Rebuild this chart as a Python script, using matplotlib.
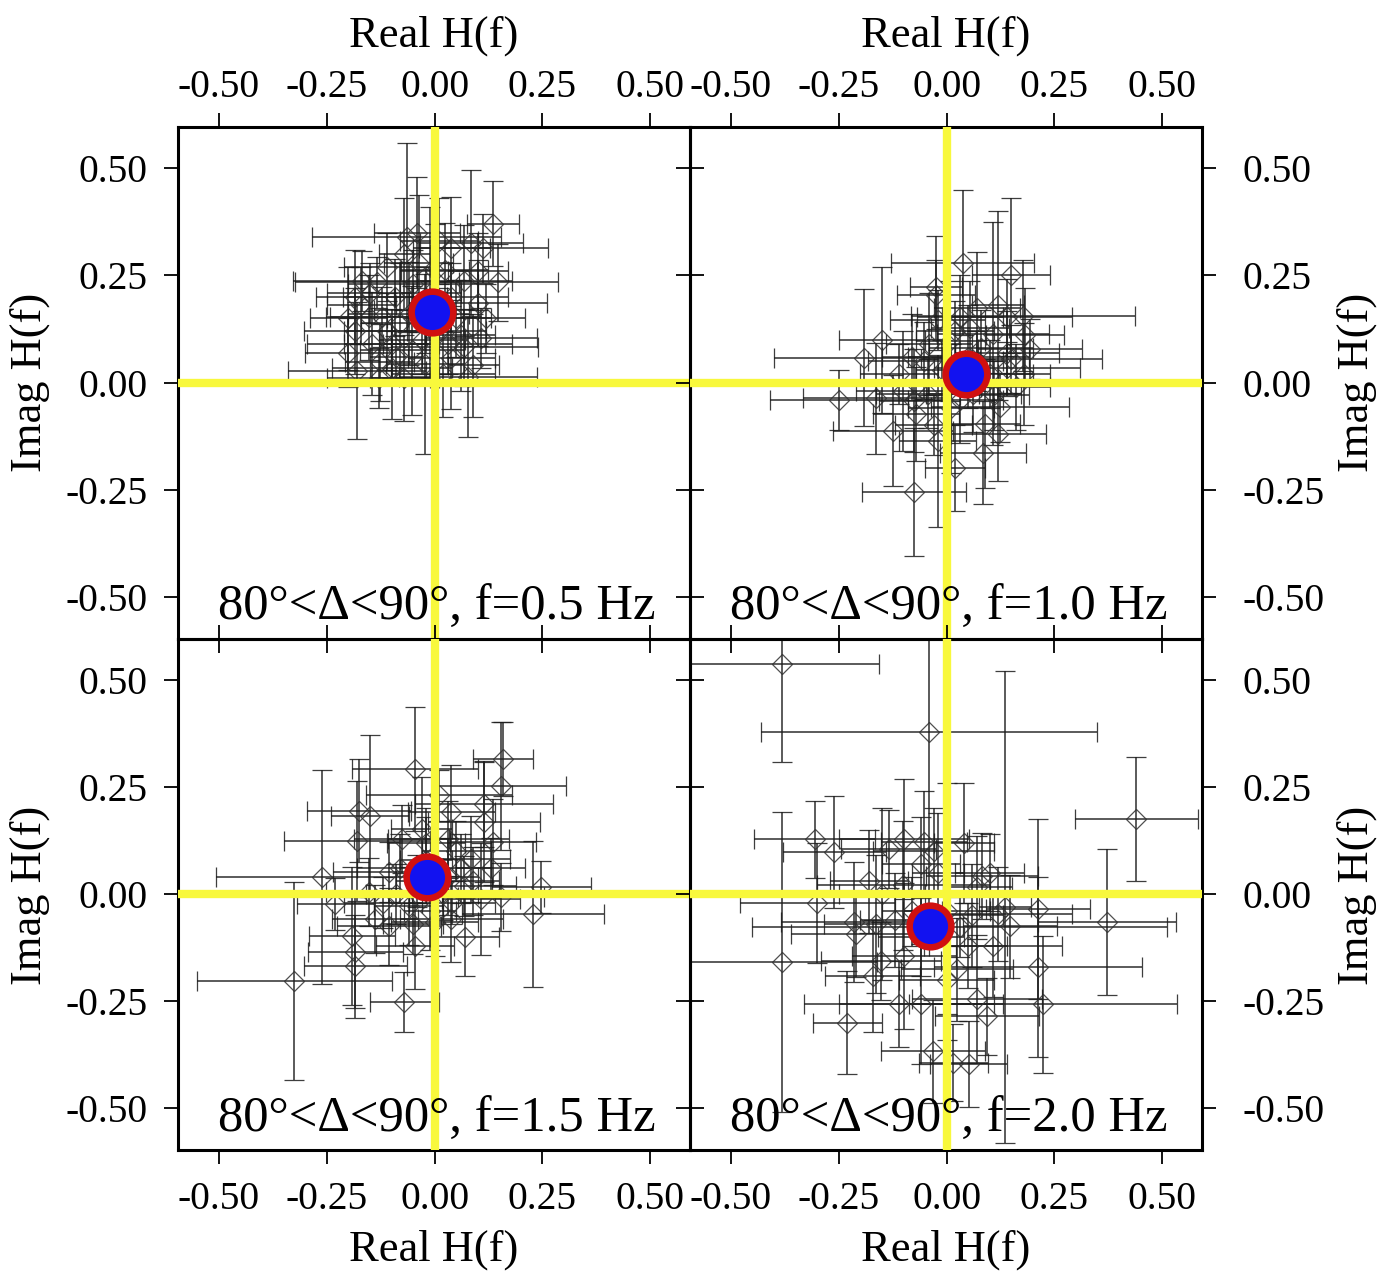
import matplotlib.pyplot as plt
import numpy as np

plt.rcParams['font.family'] = ['Liberation Serif', 'DejaVu Serif']

# ---- f = 0.5 Hz (top left) ----
f05_re = [0.136, -0.041, -0.065, 0.039, 0.085, 0.113, 0.147, -0.168, -0.184, -0.134,
          0.101, 0.069, -0.184, -0.180, -0.099, -0.127, 0.078, 0.108, 0.069, 0.039,
          -0.099, -0.145, -0.081, -0.092, -0.037, 0.023, 0.039, -0.053, -0.023, 0.009,
          -0.122, -0.152, -0.060, -0.010, 0.050, -0.030, 0.020, -0.200, -0.110, 0.090,
          -0.070, 0.010, -0.170, 0.120, -0.150, -0.020, 0.060, -0.110, 0.000, -0.050,
          0.100, -0.200, -0.130, 0.030, -0.070, -0.090]
f05_im = [0.371, 0.350, 0.339, 0.313, 0.325, 0.313, 0.234, 0.238, 0.199, 0.234,
          0.185, 0.238, 0.121, 0.028, 0.035, 0.047, 0.012, 0.105, 0.082, 0.058,
          0.091, 0.091, 0.138, 0.199, 0.278, 0.262, 0.199, 0.075, 0.044, 0.121,
          0.152, 0.152, 0.161, 0.210, 0.150, 0.100, 0.020, 0.070, 0.270, 0.040,
          0.010, 0.330, 0.180, 0.150, 0.210, 0.170, 0.110, 0.120, 0.260, 0.230,
          0.260, 0.150, 0.010, 0.090, 0.300, 0.060]
f05_re_err = [0.06, 0.10, 0.22, 0.09, 0.12, 0.15, 0.14, 0.16, 0.09, 0.19,
              0.16, 0.11, 0.12, 0.16, 0.14, 0.08, 0.16, 0.13, 0.17, 0.10,
              0.11, 0.15, 0.09, 0.12, 0.08, 0.10, 0.13, 0.12, 0.09, 0.11,
              0.13, 0.09, 0.14, 0.07, 0.08, 0.10, 0.12, 0.10, 0.10, 0.06,
              0.08, 0.09, 0.08, 0.09, 0.10, 0.12, 0.08, 0.10, 0.08, 0.15,
              0.07, 0.09, 0.12, 0.15, 0.06, 0.06]
f05_im_err = [0.10, 0.13, 0.22, 0.12, 0.17, 0.08, 0.09, 0.07, 0.11, 0.06,
              0.10, 0.13, 0.10, 0.16, 0.12, 0.09, 0.14, 0.07, 0.09, 0.12,
              0.08, 0.12, 0.14, 0.09, 0.16, 0.11, 0.08, 0.15, 0.21, 0.10,
              0.07, 0.10, 0.12, 0.20, 0.09, 0.08, 0.10, 0.08, 0.08, 0.12,
              0.10, 0.10, 0.09, 0.08, 0.07, 0.10, 0.13, 0.09, 0.11, 0.08,
              0.09, 0.12, 0.07, 0.07, 0.13, 0.06]

# ---- f = 1.0 Hz (top right) ----
f10_re = [0.037, -0.025, -0.025, -0.191, -0.164, -0.124, -0.071, -0.021, 0.090, 0.085,
          0.124, 0.071, 0.140, 0.177, 0.182, 0.193, 0.032, 0.108, -0.053, 0.055,
          -0.021, 0.140, -0.076, -0.044, 0.140, 0.062, 0.009, -0.076, 0.150, 0.010,
          0.100, -0.110, 0.050, -0.040, 0.160, -0.150, 0.020, 0.120, -0.250, -0.010,
          0.150, 0.080, 0.020, -0.080, 0.120, 0.030, -0.100, 0.180, 0.070, -0.030,
          0.110]
f10_im = [0.280, 0.222, 0.205, 0.058, -0.037, -0.112, -0.073, -0.136, -0.096, -0.164,
          -0.058, 0.175, 0.152, 0.156, 0.110, 0.079, 0.152, 0.114, 0.051, 0.128,
          0.145, 0.068, -0.042, -0.026, 0.035, -0.026, 0.098, -0.255, 0.250, -0.060,
          0.020, 0.020, 0.060, 0.090, -0.010, 0.100, -0.200, -0.120, -0.040, 0.030,
          0.055, 0.080, 0.120, 0.060, 0.180, -0.040, -0.020, 0.020, 0.050, -0.100,
          -0.030]
f10_re_err = [0.165, 0.06, 0.09, 0.21, 0.17, 0.14, 0.10, 0.09, 0.08, 0.10,
              0.16, 0.10, 0.15, 0.26, 0.09, 0.12, 0.10, 0.13, 0.13, 0.09,
              0.11, 0.12, 0.08, 0.12, 0.17, 0.11, 0.08, 0.12, 0.09, 0.10,
              0.10, 0.09, 0.14, 0.10, 0.08, 0.10, 0.07, 0.11, 0.16, 0.06,
              0.21, 0.12, 0.09, 0.07, 0.06, 0.10, 0.11, 0.06, 0.06, 0.09,
              0.08]
f10_im_err = [0.17, 0.12, 0.08, 0.16, 0.13, 0.13, 0.11, 0.20, 0.15, 0.12,
              0.08, 0.13, 0.09, 0.13, 0.11, 0.07, 0.10, 0.26, 0.09, 0.11,
              0.07, 0.10, 0.12, 0.08, 0.06, 0.09, 0.14, 0.15, 0.18, 0.15,
              0.08, 0.07, 0.12, 0.12, 0.10, 0.17, 0.10, 0.11, 0.07, 0.07,
              0.08, 0.09, 0.07, 0.10, 0.22, 0.10, 0.14, 0.12, 0.07, 0.07,
              0.08]

# ---- f = 1.5 Hz (bottom left) ----
f15_re = [0.159, 0.154, 0.115, 0.115, 0.136, -0.046, 0.039, -0.175, -0.150, -0.180,
          -0.260, -0.230, -0.191, -0.184, -0.184, -0.325, -0.071, -0.046, -0.138, -0.106,
          0.228, 0.247, 0.154, 0.039, -0.076, -0.030, 0.032, 0.085, -0.106, -0.152,
          -0.060, 0.069, 0.108, 0.000, -0.020, 0.020, -0.090, 0.060, -0.040, 0.010,
          0.070, 0.050, -0.080, 0.030, -0.120, 0.090, -0.050, 0.040, -0.020, 0.130,
          -0.010]
f15_im = [0.315, 0.252, 0.210, 0.168, 0.121, 0.292, 0.192, 0.194, 0.182, 0.124,
          0.040, -0.023, -0.098, -0.136, -0.168, -0.203, -0.252, -0.121, -0.058, -0.075,
          -0.047, 0.016, -0.007, -0.058, 0.128, 0.152, 0.128, 0.082, 0.051, 0.005,
          -0.028, 0.019, -0.012, -0.065, 0.080, 0.000, 0.000, 0.060, 0.030, 0.230,
          -0.100, 0.100, 0.060, 0.040, -0.020, 0.030, -0.070, -0.020, 0.120, 0.060,
          -0.040]
f15_re_err = [0.07, 0.15, 0.16, 0.13, 0.10, 0.146, 0.10, 0.12, 0.09, 0.17,
              0.247, 0.09, 0.10, 0.11, 0.12, 0.226, 0.08, 0.09, 0.10, 0.12,
              0.164, 0.115, 0.10, 0.12, 0.11, 0.07, 0.14, 0.09, 0.13, 0.10,
              0.08, 0.12, 0.09, 0.10, 0.06, 0.08, 0.07, 0.07, 0.05, 0.17,
              0.08, 0.08, 0.10, 0.07, 0.09, 0.06, 0.07, 0.10, 0.09, 0.08,
              0.06]
f15_im_err = [0.087, 0.15, 0.10, 0.14, 0.10, 0.145, 0.11, 0.12, 0.19, 0.14,
              0.25, 0.06, 0.16, 0.13, 0.12, 0.23, 0.07, 0.10, 0.08, 0.09,
              0.17, 0.06, 0.08, 0.10, 0.08, 0.12, 0.09, 0.10, 0.07, 0.08,
              0.09, 0.07, 0.13, 0.08, 0.10, 0.06, 0.07, 0.08, 0.06, 0.06,
              0.09, 0.07, 0.08, 0.09, 0.06, 0.08, 0.07, 0.05, 0.08, 0.07,
              0.09]

# ---- f = 2.0 Hz (bottom right) ----
f20_re = [-0.382, -0.041, 0.440, -0.306, -0.260, -0.099, -0.053, -0.030, -0.060, 0.083,
          -0.134, 0.071, 0.212, 0.371, 0.120, 0.147, -0.214, -0.210, -0.164, -0.382,
          -0.171, -0.152, 0.108, 0.212, 0.224, -0.111, -0.060, 0.071, 0.094, -0.032,
          0.051, 0.016, 0.025, -0.099, 0.030, 0.136, -0.100, 0.000, -0.300, -0.150,
          0.040, -0.230, -0.080, -0.060, 0.050, -0.120, 0.000, 0.100, -0.180, 0.060,
          -0.020]
f20_im = [0.537, 0.378, 0.175, 0.128, 0.098, 0.128, 0.121, 0.100, 0.070, 0.042,
          0.105, 0.016, -0.035, -0.065, -0.047, -0.075, -0.065, -0.093, -0.070, -0.159,
          -0.191, -0.156, -0.121, -0.170, -0.257, -0.257, -0.257, -0.245, -0.285, -0.367,
          -0.397, -0.393, -0.175, -0.145, -0.077, -0.030, 0.020, -0.040, -0.020, 0.000,
          0.120, -0.300, -0.040, -0.100, -0.120, -0.060, -0.200, 0.050, 0.030, -0.050,
          0.050]
f20_re_err = [0.225, 0.39, 0.143, 0.14, 0.12, 0.15, 0.10, 0.14, 0.09, 0.13,
              0.11, 0.08, 0.12, 0.16, 0.17, 0.11, 0.17, 0.15, 0.12, 0.22,
              0.11, 0.14, 0.16, 0.24, 0.31, 0.22, 0.19, 0.15, 0.12, 0.12,
              0.09, 0.08, 0.13, 0.12, 0.48, 0.06, 0.20, 0.10, 0.18, 0.10,
              0.07, 0.08, 0.07, 0.10, 0.09, 0.08, 0.11, 0.08, 0.09, 0.07,
              0.06]
f20_im_err = [0.23, 0.45, 0.145, 0.09, 0.13, 0.14, 0.12, 0.10, 0.11, 0.10,
              0.09, 0.12, 0.21, 0.17, 0.11, 0.12, 0.14, 0.10, 0.16, 0.35,
              0.13, 0.09, 0.12, 0.21, 0.16, 0.10, 0.14, 0.15, 0.09, 0.12,
              0.10, 0.09, 0.12, 0.17, 0.07, 0.55, 0.15, 0.30, 0.14, 0.20,
              0.14, 0.12, 0.08, 0.09, 0.10, 0.11, 0.08, 0.09, 0.12, 0.12,
              0.14]

# mean H(f) per frequency
mean_re = [-0.007, 0.046, -0.018, -0.039]
mean_im = [0.164, 0.021, 0.040, -0.075]
freqs = ['0.5', '1.0', '1.5', '2.0']

panels = [(f05_re, f05_im, f05_re_err, f05_im_err),
          (f10_re, f10_im, f10_re_err, f10_im_err),
          (f15_re, f15_im, f15_re_err, f15_im_err),
          (f20_re, f20_im, f20_re_err, f20_im_err)]

ticks = [-0.5, -0.25, 0.0, 0.25, 0.5]
tick_labels = ['-0.50', '-0.25', '0.00', '0.25', '0.50']

fig = plt.figure(figsize=(13.81, 12.71), dpi=100)
W, H = 0.3707, 0.4024
lefts = [0.1289, 0.4996]
bottoms = [0.4976, 0.0952]

for i, (re, im, re_err, im_err) in enumerate(panels):
    row, col = i // 2, i % 2
    ax = fig.add_axes([lefts[col], bottoms[row], W, H])
    ax.set_facecolor('none')
    ax.errorbar(re, im, xerr=re_err, yerr=im_err, fmt='D', ms=10, mfc='none',
                mec='#303030', mew=0.9, ecolor='#1c1c1c', elinewidth=1.2,
                capsize=7, capthick=1.2, alpha=0.85, zorder=2)
    ax.axhline(0, color='#f8f83c', lw=6, zorder=3)
    ax.axvline(0, color='#f8f83c', lw=6, zorder=3)
    ax.plot(mean_re[i], mean_im[i], 'o', ms=30, mfc='#1212f0', mec='#d01010',
            mew=4.7, zorder=4)
    ax.set_xlim(-0.595, 0.592)
    ax.set_ylim(-0.597, 0.596)
    ax.set_xticks(ticks)
    ax.set_xticklabels(tick_labels)
    ax.set_yticks(ticks)
    ax.set_yticklabels(tick_labels)
    ax.tick_params(direction='out', length=10, width=1.3, labelsize=28.5,
                   top=True, bottom=True, left=True, right=True,
                   labeltop=(row == 0), labelbottom=(row == 1),
                   labelleft=(col == 0), labelright=(col == 1))
    ax.tick_params(axis='x', pad=5 if row == 0 else 12)
    ax.tick_params(axis='y', pad=12 if col == 0 else 19)
    for sp in ax.spines.values():
        sp.set_linewidth(2.2)
    ax.text(0.505, 0.036, '80°<Δ<90°, f=' + freqs[i] + ' Hz', transform=ax.transAxes,
            ha='center', va='baseline', fontsize=36.5, zorder=5)

# axis titles
for xc in [434 / 1381, 946 / 1381]:
    fig.text(xc, 1 - 47 / 1271, 'Real H(f)', ha='center', va='baseline', fontsize=32)
    fig.text(xc, 10 / 1271, 'Real H(f)', ha='center', va='baseline', fontsize=32)
for yc in [1 - 382 / 1271, 1 - 895 / 1271]:
    fig.text(30 / 1381, yc, 'Imag H(f)', ha='center', va='center', rotation=90, fontsize=32)
    fig.text(1357 / 1381, yc, 'Imag H(f)', ha='center', va='center', rotation=90, fontsize=32)

fig.savefig('out.png', dpi=100)
